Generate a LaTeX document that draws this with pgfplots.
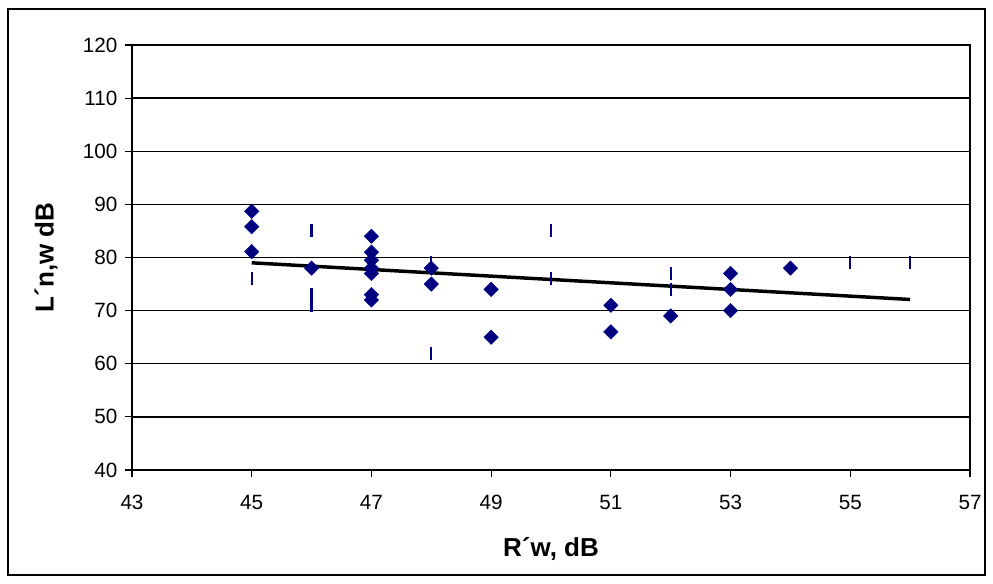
\documentclass[border=0pt]{standalone}
\usepackage{fontspec}
\setmainfont{Liberation Sans}
\usepackage{pgfplots}
\pgfplotsset{compat=1.18}
\definecolor{navy}{RGB}{0,0,128}
\begin{document}
\begin{tikzpicture}
% page and outer frame (993 x 583 px, 1 px = 0.75 pt)
\path[use as bounding box] (0,0) rectangle (744.75pt,437.25pt);
\draw[line width=0.9pt] (6pt,6pt) rectangle (738.75pt,430.5pt);
\begin{axis}[
  at={(99pt,84.75pt)}, anchor=south west,
  scale only axis,
  width=628.5pt, height=318.75pt,
  xmin=43, xmax=57, ymin=40, ymax=120,
  xtick={43,45,...,57}, ytick={40,50,...,120},
  tick align=outside, tick pos=left,
  major tick length=5.5pt,
  every tick/.style={black, line width=0.8pt},
  axis line style={line width=1.1pt},
  ymajorgrids, grid style={black, line width=1.1pt},
  tick label style={font=\fontsize{15.5}{18}\selectfont},
  /pgf/number format/assume math mode=true,
  xticklabel style={yshift=-10pt},
  yticklabel style={xshift=-2pt},
  xlabel={\textbf{R´w, dB}},
  ylabel={\textbf{L´n,w dB}},
  label style={font=\fontsize{19.5}{23}\selectfont},
  xlabel style={yshift=-14pt},
  ylabel style={yshift=12pt},
  clip=false,
]
% linear trend
\addplot[black, line width=2.6pt, no marks] coordinates {(45,79.0) (56,72.1)};
% second series (dash markers)
\addplot[only marks, mark=|, mark size=4.9pt, mark options={navy, line width=1.7pt}] coordinates {
  (45,76) (46,85) (46,73) (46,71) (48,79) (48,62)
  (50,85) (50,76) (52,77) (52,74) (55,79) (56,79)
};
% measured values
\addplot[only marks, mark=square*, mark size=3.8pt, mark options={rotate=45, navy, fill=navy, draw=navy}] coordinates {
  (45,88.7) (45,85.8) (45,81.1)
  (46,78)
  (47,84) (47,81) (47,79.5) (47,78) (47,77) (47,73) (47,72)
  (48,78) (48,75)
  (49,74) (49,65)
  (51,71) (51,66)
  (52,69)
  (53,77) (53,74) (53,70)
  (54,78)
};
\end{axis}
\end{tikzpicture}
\end{document}
